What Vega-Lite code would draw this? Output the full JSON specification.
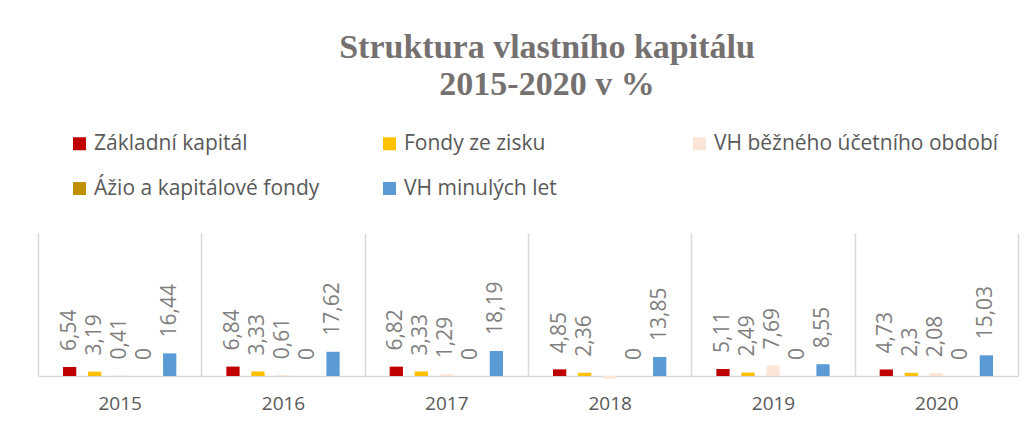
{
  "$schema": "https://vega.github.io/schema/vega-lite/v6.json",
  "width": 980,
  "height": 143,
  "autosize": {"type": "none"},
  "padding": {"left": 38, "top": 233, "right": 16, "bottom": 52},
  "background": "white",
  "config": {
    "view": {"stroke": null},
    "font": "Open Sans",
    "locale": {"number": {"decimal": ",", "thousands": " ", "grouping": [3], "currency": ["", " Kč"]}}
  },
  "title": {
    "text": ["Struktura vlastního kapitálu", "2015-2020 v %"],
    "font": "Liberation Serif",
    "fontSize": 34,
    "fontWeight": "bold",
    "color": "#767171",
    "anchor": "middle",
    "dx": 19,
    "lineHeight": 37,
    "offset": 31
  },
  "data": {
    "values": [
      {"rok": "2015", "slozka": "Základní kapitál", "hodnota": 6.54},
      {"rok": "2015", "slozka": "Fondy ze zisku", "hodnota": 3.19},
      {"rok": "2015", "slozka": "VH běžného účetního období", "hodnota": 0.41},
      {"rok": "2015", "slozka": "Ážio a kapitálové fondy", "hodnota": 0},
      {"rok": "2015", "slozka": "VH minulých let", "hodnota": 16.44},
      {"rok": "2016", "slozka": "Základní kapitál", "hodnota": 6.84},
      {"rok": "2016", "slozka": "Fondy ze zisku", "hodnota": 3.33},
      {"rok": "2016", "slozka": "VH běžného účetního období", "hodnota": 0.61},
      {"rok": "2016", "slozka": "Ážio a kapitálové fondy", "hodnota": 0},
      {"rok": "2016", "slozka": "VH minulých let", "hodnota": 17.62},
      {"rok": "2017", "slozka": "Základní kapitál", "hodnota": 6.82},
      {"rok": "2017", "slozka": "Fondy ze zisku", "hodnota": 3.33},
      {"rok": "2017", "slozka": "VH běžného účetního období", "hodnota": 1.29},
      {"rok": "2017", "slozka": "Ážio a kapitálové fondy", "hodnota": 0},
      {"rok": "2017", "slozka": "VH minulých let", "hodnota": 18.19},
      {"rok": "2018", "slozka": "Základní kapitál", "hodnota": 4.85},
      {"rok": "2018", "slozka": "Fondy ze zisku", "hodnota": 2.36},
      {"rok": "2018", "slozka": "VH běžného účetního období", "hodnota": -1.8},
      {"rok": "2018", "slozka": "Ážio a kapitálové fondy", "hodnota": 0},
      {"rok": "2018", "slozka": "VH minulých let", "hodnota": 13.85},
      {"rok": "2019", "slozka": "Základní kapitál", "hodnota": 5.11},
      {"rok": "2019", "slozka": "Fondy ze zisku", "hodnota": 2.49},
      {"rok": "2019", "slozka": "VH běžného účetního období", "hodnota": 7.69},
      {"rok": "2019", "slozka": "Ážio a kapitálové fondy", "hodnota": 0},
      {"rok": "2019", "slozka": "VH minulých let", "hodnota": 8.55},
      {"rok": "2020", "slozka": "Základní kapitál", "hodnota": 4.73},
      {"rok": "2020", "slozka": "Fondy ze zisku", "hodnota": 2.3},
      {"rok": "2020", "slozka": "VH běžného účetního období", "hodnota": 2.08},
      {"rok": "2020", "slozka": "Ážio a kapitálové fondy", "hodnota": 0},
      {"rok": "2020", "slozka": "VH minulých let", "hodnota": 15.03}
    ]
  },
  "encoding": {
    "x": {
      "field": "rok",
      "type": "nominal",
      "scale": {"paddingInner": 0, "paddingOuter": 0},
      "axis": {
        "title": null,
        "orient": "bottom",
        "labelAngle": 0,
        "labelFontSize": 19,
        "labelColor": "#595959",
        "labelPadding": 18,
        "ticks": false,
        "tickBand": "extent",
        "domain": true,
        "domainColor": "#d9d9d9",
        "domainWidth": 1.5,
        "grid": true,
        "gridColor": "#d9d9d9",
        "gridWidth": 1.5
      }
    },
    "xOffset": {
      "field": "slozka",
      "type": "nominal",
      "sort": ["Základní kapitál", "Fondy ze zisku", "VH běžného účetního období", "Ážio a kapitálové fondy", "VH minulých let"],
      "scale": {"paddingInner": 0.47, "paddingOuter": 1.17}
    },
    "y": {
      "field": "hodnota",
      "type": "quantitative",
      "scale": {"domain": [0, 104], "nice": false, "zero": true},
      "axis": null
    }
  },
  "layer": [
    {
      "mark": {"type": "bar", "clip": false},
      "encoding": {
        "color": {
          "field": "slozka",
          "type": "nominal",
          "sort": ["Základní kapitál", "Fondy ze zisku", "VH běžného účetního období", "Ážio a kapitálové fondy", "VH minulých let"],
          "scale": {
            "domain": ["Základní kapitál", "Fondy ze zisku", "VH běžného účetního období", "Ážio a kapitálové fondy", "VH minulých let"],
            "range": ["#C00000", "#FFC000", "#FBE5D6", "#BF9000", "#5B9BD5"]
          },
          "legend": {
            "orient": "none",
            "legendX": 31,
            "legendY": -100,
            "direction": "horizontal",
            "columns": 3,
            "gridAlign": "all",
            "columnPadding": 0,
            "rowPadding": 23,
            "padding": 0,
            "title": null,
            "symbolType": "square",
            "symbolSize": 169,
            "symbolStrokeWidth": 0,
            "labelFont": "Open Sans",
            "labelFontSize": 21,
            "labelColor": "#595959",
            "labelOffset": 4,
            "labelLimit": 400
          }
        }
      }
    },
    {
      "transform": [{"filter": "datum.hodnota >= 0"}],
      "mark": {"type": "text", "angle": 270, "align": "left", "baseline": "middle", "dx": 16, "fontSize": 21, "font": "Open Sans", "color": "#7f7f7f"},
      "encoding": {
        "text": {"field": "hodnota", "type": "quantitative", "format": ".4~r"}
      }
    }
  ]
}
